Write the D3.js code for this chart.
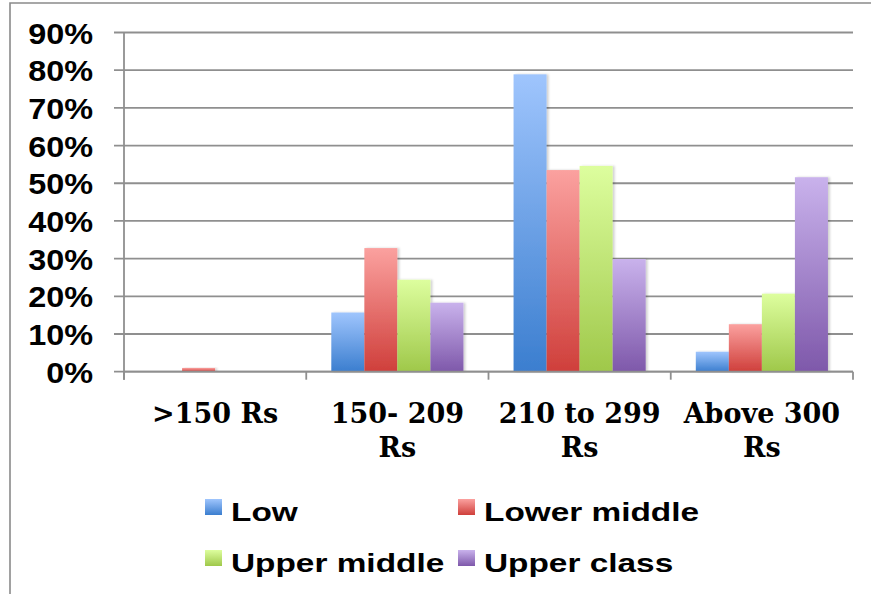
<!DOCTYPE html>
<html>
<head>
<meta charset="utf-8">
<script src="https://cdn.jsdelivr.net/npm/d3@7"></script>
<style>
  html, body { margin: 0; padding: 0; background: #fff; }
  svg { display: block; }
</style>
</head>
<body>
<script>
// ---- data ----
const categories = [">150 Rs", "150- 209 Rs", "210 to 299 Rs", "Above 300 Rs"];
const categoryLines = [[">150 Rs"], ["150- 209", "Rs"], ["210 to 299", "Rs"], ["Above 300", "Rs"]];
const series = ["Low", "Lower middle", "Upper middle", "Upper class"];
const lowValues = [0, 0.157, 0.789, 0.053];
const lowerMiddleValues = [0.01, 0.328, 0.535, 0.126];
const upperMiddleValues = [0, 0.244, 0.546, 0.207];
const upperClassValues = [0, 0.183, 0.299, 0.516];
const yTicks = [0, 0.1, 0.2, 0.3, 0.4, 0.5, 0.6, 0.7, 0.8, 0.9];
const seriesColors = [
  ["#9fc5fd", "#3b7ecf"],
  ["#fba19f", "#cf3f3b"],
  ["#ddfe9e", "#9fc84a"],
  ["#c9b2ec", "#7e58aa"]
];

const values = [lowValues, lowerMiddleValues, upperMiddleValues, upperClassValues];

const W = 871, H = 594;
const svg = d3.select("body").append("svg").attr("width", W).attr("height", H);
svg.append("rect").attr("width", W).attr("height", H).attr("fill", "#fff");

const defs = svg.append("defs");
seriesColors.forEach((c, i) => {
  const g = defs.append("linearGradient").attr("id", "grad" + i)
    .attr("x1", 0).attr("y1", 0).attr("x2", 0).attr("y2", 1);
  g.append("stop").attr("offset", "0%").attr("stop-color", c[0]);
  g.append("stop").attr("offset", "100%").attr("stop-color", c[1]);
});
const shadow = defs.append("filter").attr("id", "shadow")
  .attr("x", "-20%").attr("y", "-5%").attr("width", "150%").attr("height", "110%");
shadow.append("feDropShadow").attr("dx", 2).attr("dy", 0).attr("stdDeviation", 1.2)
  .attr("flood-color", "#000").attr("flood-opacity", 0.18);

// outer frame (left and top edges visible)
svg.append("path").attr("d", `M10,${H} V3 H${W}`)
  .attr("fill", "none").attr("stroke", "#8a8a8a").attr("stroke-width", 1.6);

const x0 = 124, x1 = 853, yBase = 371.7, yTop = 32.5;
const y = d3.scaleLinear().domain([0, 0.9]).range([yBase, yTop]);
const x = d3.scaleBand().domain(categories).range([x0, x1]).padding(0);
const bw = x.bandwidth();
const xs = d3.scaleBand().domain(series).range([bw * 0.1375, bw * 0.8625]).padding(0);

const gridColor = "#8f8f8f";

// gridlines
svg.append("g").selectAll("line").data(yTicks).join("line")
  .attr("x1", x0 - 10).attr("x2", x1)
  .attr("y1", d => y(d)).attr("y2", d => y(d))
  .attr("stroke", gridColor).attr("stroke-width", 1.8);

// y axis line
svg.append("line").attr("x1", x0).attr("x2", x0).attr("y1", y(0.9)).attr("y2", yBase + 8)
  .attr("stroke", gridColor).attr("stroke-width", 1.8);

// category ticks
const boundaries = categories.map(c => x(c)).concat([x1]);
svg.append("g").selectAll("line").data(boundaries).join("line")
  .attr("x1", d => d).attr("x2", d => d).attr("y1", yBase).attr("y2", yBase + 8)
  .attr("stroke", gridColor).attr("stroke-width", 1.8);

// bars
const groups = svg.append("g").selectAll("g").data(categories).join("g")
  .attr("transform", c => `translate(${x(c)},0)`);
groups.each(function(c, ci) {
  d3.select(this).selectAll("rect").data(series).join("rect")
    .attr("x", s => xs(s))
    .attr("width", xs.bandwidth())
    .attr("y", (s, si) => y(values[si][ci]))
    .attr("height", (s, si) => yBase - y(values[si][ci]))
    .attr("fill", (s, si) => `url(#grad${si})`)
    .attr("filter", "url(#shadow)");
});

// baseline redraw
svg.append("line").attr("x1", x0).attr("x2", x1).attr("y1", yBase).attr("y2", yBase)
  .attr("stroke", gridColor).attr("stroke-width", 1.8);

// y tick labels
svg.append("g").selectAll("text").data(yTicks).join("text")
  .attr("transform", d => `translate(93,${y(d) + 11}) scale(1.08,1)`)
  .attr("text-anchor", "end")
  .attr("font-family", "'Liberation Sans', Arial, sans-serif")
  .attr("font-weight", "bold").attr("font-size", 30).attr("fill", "#000")
  .text(d => d3.format(".0%")(d));

// category labels
const catG = svg.append("g");
categories.forEach((c, i) => {
  const t = catG.append("text")
    .attr("text-anchor", "middle")
    .attr("font-family", "'DejaVu Serif', serif")
    .attr("font-weight", "bold").attr("font-size", 27).attr("fill", "#000");
  categoryLines[i].forEach((line, li) => {
    t.append("tspan").attr("x", x(c) + bw / 2).attr("y", 423.3 + li * 33.4).text(line);
  });
});

// legend
const legendPos = [[205, 499], [458, 499], [205, 550], [458, 550]];
const lg = svg.append("g").selectAll("g").data(series).join("g")
  .attr("transform", (s, i) => `translate(${legendPos[i][0]},${legendPos[i][1]})`);
lg.append("rect").attr("width", 17).attr("height", 16)
  .attr("fill", (s, i) => `url(#grad${i})`);
lg.append("text")
  .attr("transform", "translate(26,21.7) scale(1.26,1)")
  .attr("font-family", "'Liberation Sans', Arial, sans-serif")
  .attr("font-weight", "bold").attr("font-size", 26.5).attr("fill", "#000")
  .text(s => s);
</script>
</body>
</html>
